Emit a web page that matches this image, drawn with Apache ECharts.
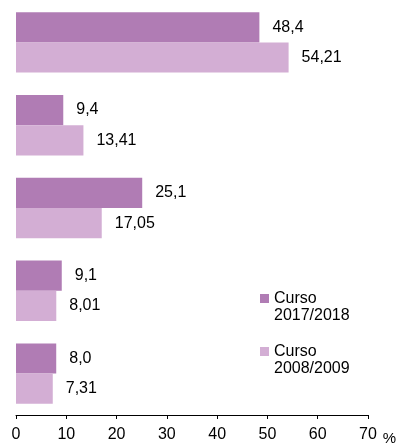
<!DOCTYPE html>
<html>
<head>
<meta charset="utf-8">
<script src="https://cdn.jsdelivr.net/npm/echarts@6/dist/echarts.min.js"></script>
<style>
  html, body { margin: 0; padding: 0; background: #fff; }
  #chart { width: 400px; height: 448px; }
</style>
</head>
<body>
<div id="chart"></div>
<script>
  // categorías (sin etiqueta visible en el eje)
  var categories = ['1', '2', '3', '4', '5'];
  // valores de cada curso (%)
  var curso2017 = [48.4, 9.4, 25.1, 9.1, 8.0];
  var curso2008 = [54.21, 13.41, 17.05, 8.01, 7.31];
  // eje x
  var xMin = 0, xMax = 70, xStep = 10;

  var fontFam = "'Liberation Sans', Arial, sans-serif";

  // formato con coma decimal
  function fmt(decimals) {
    return function (p) {
      return p.value.toFixed(decimals).replace('.', ',');
    };
  }

  var chart = echarts.init(document.getElementById('chart'));
  chart.setOption({
    animation: false,
    textStyle: { fontFamily: fontFam },
    grid: {
      left: 16,
      right: 32,
      top: 1,
      bottom: 33,
      outerBoundsMode: 'none'
    },
    legend: {
      orient: 'vertical',
      left: 255,
      top: 268,
      itemWidth: 9,
      itemHeight: 9,
      itemGap: 2,
      icon: 'rect',
      selectedMode: false,
      // línea vacía delante para que el cuadro quede a la altura de "Curso"
      formatter: function (name) { return ' \n' + name; },
      textStyle: {
        fontSize: 16,
        lineHeight: 17,
        color: '#000'
      }
    },
    xAxis: {
      type: 'value',
      min: xMin,
      max: xMax,
      interval: xStep,
      name: '%',
      nameLocation: 'end',
      nameGap: 13,
      nameTextStyle: {
        fontSize: 15,
        color: '#000',
        verticalAlign: 'top',
        padding: [16, 0, 0, 0]
      },
      axisLine: { show: true, lineStyle: { color: '#000', width: 1 } },
      axisTick: { show: true, length: 4, lineStyle: { color: '#000' } },
      axisLabel: { fontSize: 16, color: '#000', margin: 12 },
      splitLine: { show: false }
    },
    yAxis: {
      type: 'category',
      data: categories,
      inverse: true,
      axisLine: { show: false },
      axisTick: { show: false },
      axisLabel: { show: false }
    },
    series: [
      {
        name: 'Curso\n2017/2018',
        type: 'bar',
        data: curso2017,
        barGap: 0,
        barCategoryGap: '27%',
        itemStyle: { color: '#B07CB4' },
        label: {
          show: true,
          position: 'right',
          distance: 13,
          fontSize: 16,
          color: '#000',
          formatter: fmt(1)
        }
      },
      {
        name: 'Curso\n2008/2009',
        type: 'bar',
        data: curso2008,
        barGap: 0,
        barCategoryGap: '27%',
        itemStyle: { color: '#D3AED4' },
        label: {
          show: true,
          position: 'right',
          distance: 13,
          fontSize: 16,
          color: '#000',
          formatter: fmt(2)
        }
      }
    ]
  });
</script>
</body>
</html>
